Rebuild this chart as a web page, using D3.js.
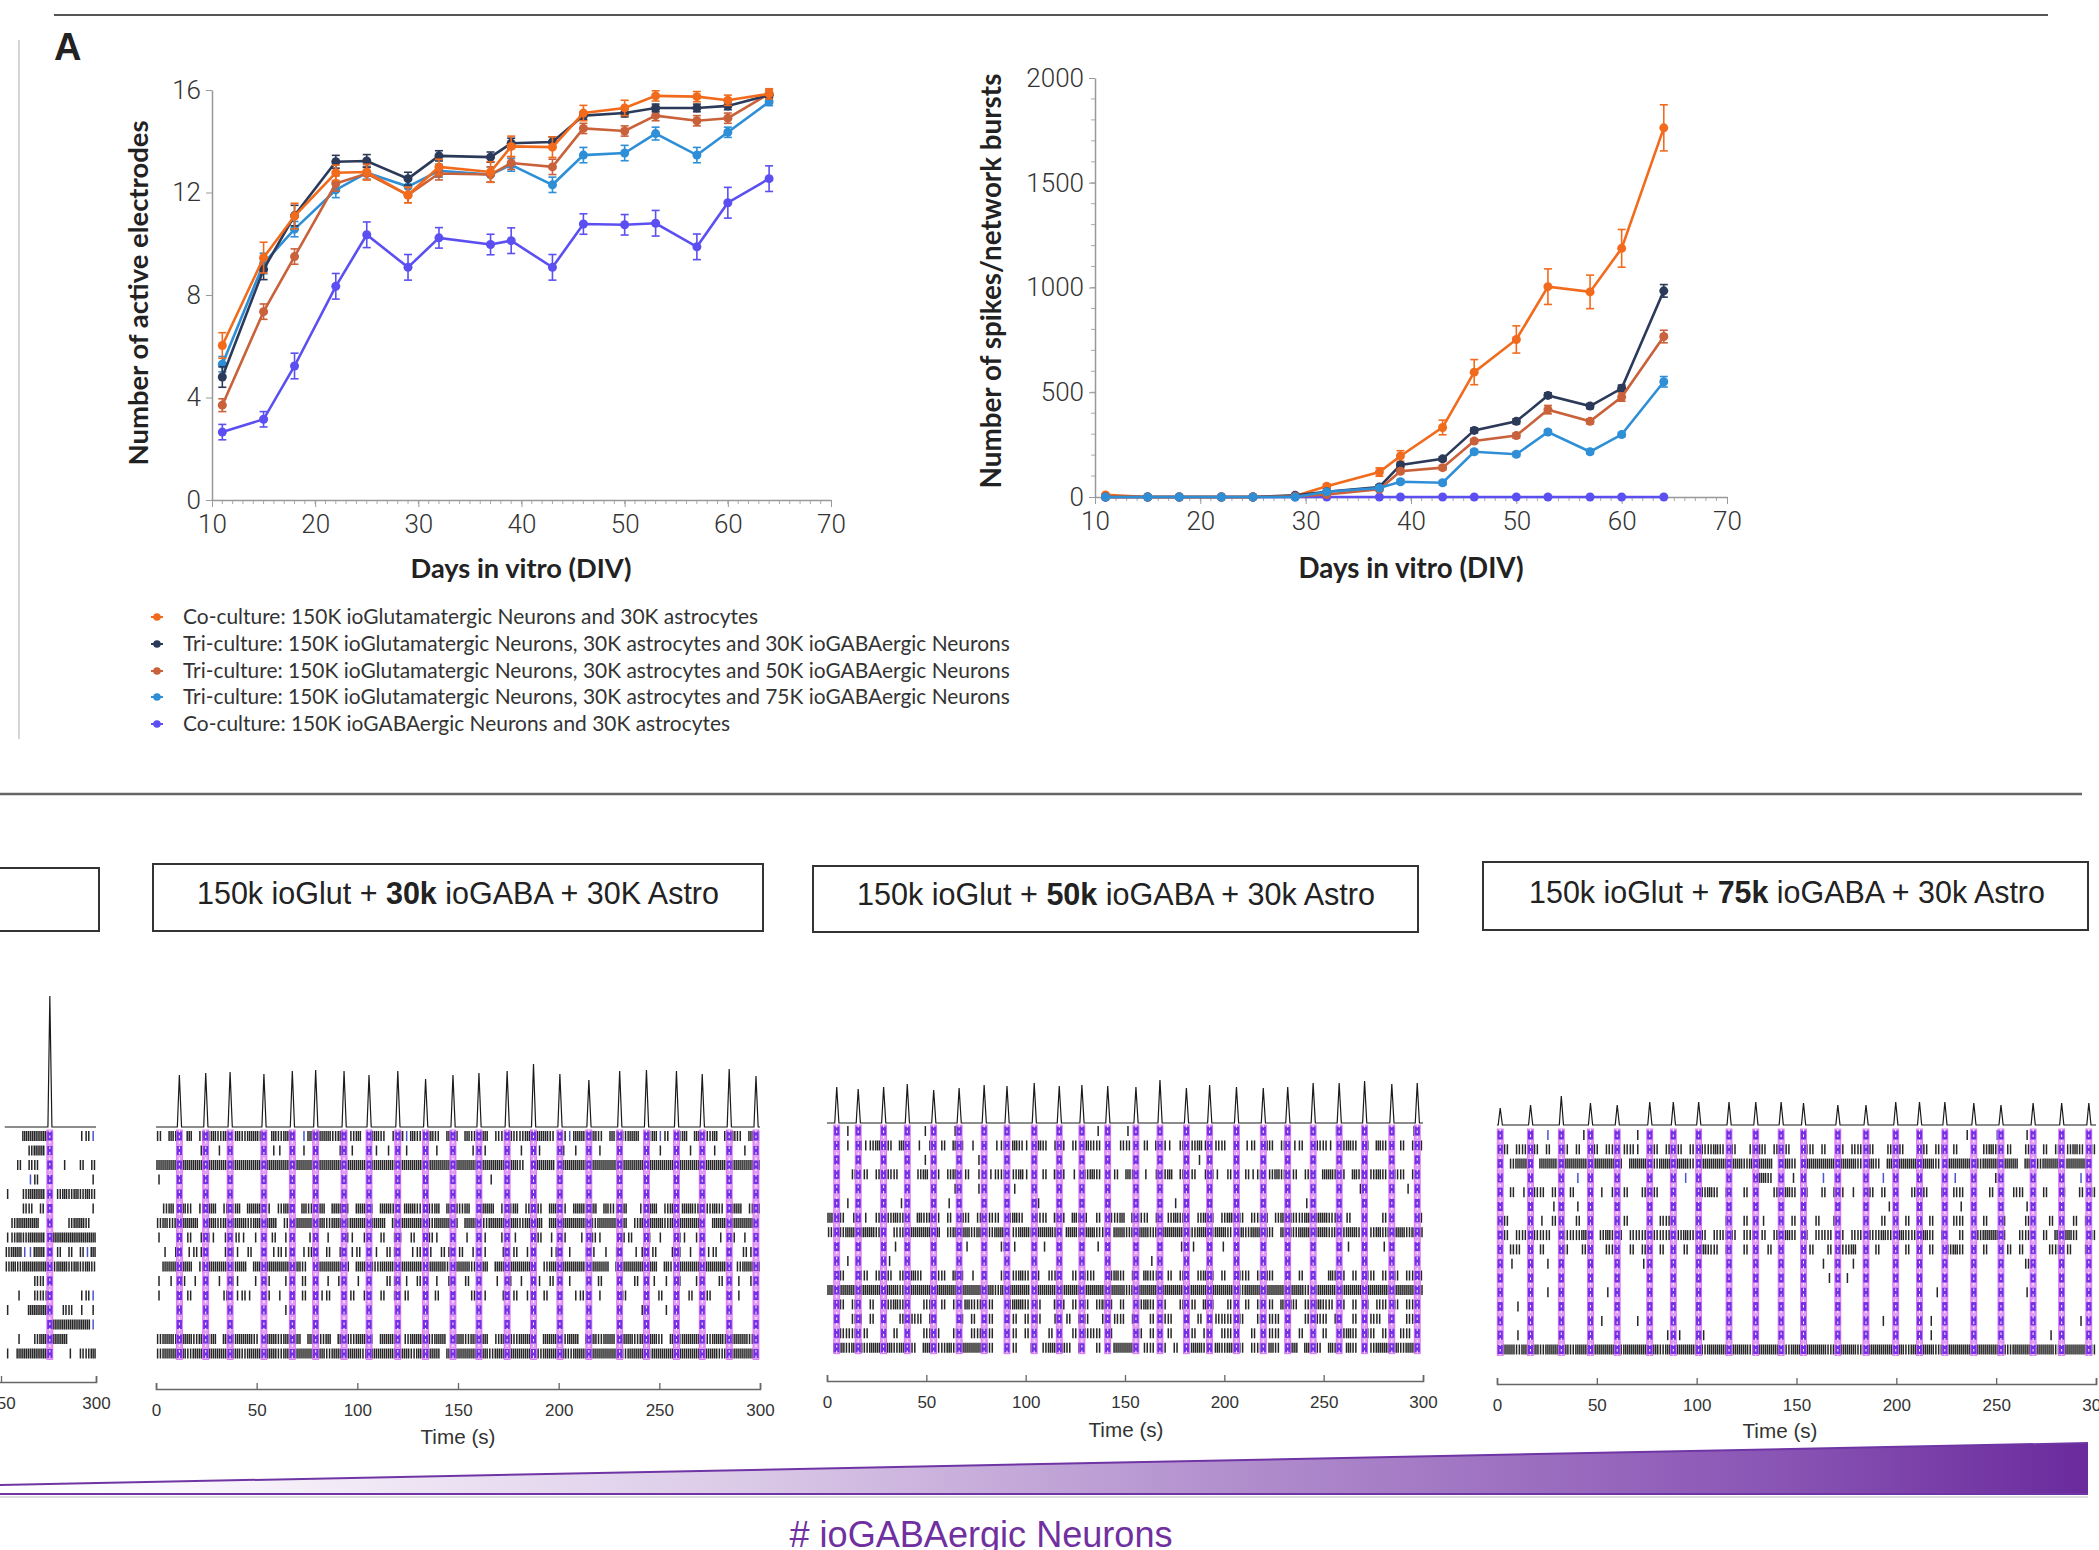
<!DOCTYPE html>
<html><head><meta charset="utf-8">
<script src="https://cdn.jsdelivr.net/npm/d3@7"></script>
<style>body{margin:0;background:#fff;} svg{display:block;}</style>
</head><body>
<svg id="c" width="2099" height="1550"></svg>
<script>
// ---------------- DATA ----------------
const days = [11,15,18,22,25,29,32,37,39,43,46,50,53,57,60,64];
const seriesLabels = [
 "Co-culture: 150K ioGlutamatergic Neurons and 30K astrocytes",
 "Tri-culture: 150K ioGlutamatergic Neurons, 30K astrocytes and 30K ioGABAergic Neurons",
 "Tri-culture: 150K ioGlutamatergic Neurons, 30K astrocytes and 50K ioGABAergic Neurons",
 "Tri-culture: 150K ioGlutamatergic Neurons, 30K astrocytes and 75K ioGABAergic Neurons",
 "Co-culture: 150K ioGABAergic Neurons and 30K astrocytes"];
// active electrodes
const elecCoGlut  = [6.03,9.46,11.08,12.77,12.8,11.9,13.0,12.8,13.8,13.77,15.1,15.3,15.77,15.74,15.6,15.85];
const elecTri30   = [4.8,9.0,11.1,13.2,13.23,12.54,13.43,13.38,13.92,13.97,15.0,15.1,15.3,15.3,15.38,15.8];
const elecTri50   = [3.7,7.35,9.5,12.35,12.74,11.9,12.74,12.7,13.15,13.0,14.5,14.4,15.0,14.8,14.9,15.85];
const elecTri75   = [5.3,9.23,10.57,12.1,12.77,12.23,12.85,12.7,13.08,12.3,13.46,13.54,14.3,13.46,14.35,15.54];
const elecCoGABA  = [2.65,3.15,5.23,8.34,10.35,9.08,10.23,9.97,10.12,9.08,10.77,10.74,10.8,9.88,11.6,12.54];
const elecErrCoGlut = [0.5,0.6,0.5,0.3,0.3,0.3,0.3,0.4,0.4,0.4,0.3,0.3,0.2,0.2,0.2,0.2];
const elecErrTri30  = [0.4,0.4,0.4,0.25,0.25,0.25,0.2,0.2,0.2,0.2,0.15,0.15,0.15,0.15,0.15,0.1];
const elecErrTri50  = [0.25,0.3,0.3,0.3,0.25,0.3,0.25,0.3,0.25,0.3,0.2,0.2,0.2,0.2,0.2,0.15];
const elecErrTri75  = [0.3,0.4,0.3,0.3,0.25,0.25,0.25,0.3,0.25,0.3,0.3,0.3,0.25,0.3,0.2,0.15];
const elecErrCoGABA = [0.3,0.3,0.5,0.5,0.5,0.5,0.4,0.4,0.5,0.5,0.4,0.4,0.5,0.5,0.6,0.5];
// spikes / network bursts
const nbCoGlut  = [10,0,0,0,0,5,51,119,196,332,596,752,1004,979,1187,1762];
const nbTri30   = [0,0,0,0,0,8,25,48,153,182,318,361,485,434,519,984];
const nbTri50   = [0,0,0,0,0,3,12,37,123,140,267,293,417,361,477,766];
const nbTri75   = [0,0,0,0,0,0,25,43,73,68,216,204,310,216,298,550];
const nbCoGABA  = [0,0,0,0,0,0,0,0,0,0,0,0,0,0,0,0];
const nbErrCoGlut = [5,0,0,0,0,3,10,20,25,35,60,65,85,80,90,110];
const nbErrTri30  = [0,0,0,0,0,2,5,10,10,10,12,12,12,12,15,30];
const nbErrTri50  = [0,0,0,0,0,2,5,8,10,10,10,12,20,12,20,30];
const nbErrTri75  = [0,0,0,0,0,2,5,8,10,10,10,10,10,10,10,25];
const nbErrCoGABA = [0,0,0,0,0,0,0,0,0,0,0,0,0,0,0,0];
// tick labels
const dayTicks = [10,20,30,40,50,60,70];
const elecTicks = [0,4,8,12,16];
const nbTicks = [0,500,1000,1500,2000];
const timeTicks = [0,50,100,150,200,250,300];
// raster panels: network burst times (s), population peak heights, spike rows (3 s bins: . none, i one, I two, H many, b blue)
const boxTitles = [["150k ioGlut + ","30k"," ioGABA + 30K Astro"],["150k ioGlut + ","50k"," ioGABA + 30k Astro"],["150k ioGlut + ","75k"," ioGABA + 30k Astro"]];
const rasterStart = [252,0,0,0];
const bursts0 = [275.7];
const peaks0 = [131];
const rows0 = [
"...HHHHH.....iIb","....IHH.........","..I.II....i..I.I","....bI.........i","i..IHHH..IHIHIHI","...II.I........i",
".IHHHH.....IHHI.","iIHIHHH.HHHHHHHH","IHHbbHH..I.I.IbH","IHIHHHHHIHHIHIHI",".....II.........","..i..III.....iIb",
"i...HHHH..II.i.i","........HHHHHHHb","..i..IHHHHH.....","i.HHHHHH...i.IIH"];
const bursts1 = [11.6,24.7,36.8,53.6,67.7,79.3,93.4,105.8,120.1,133.9,147.5,160.4,174.4,187.5,200.6,215.0,230.3,243.6,258.5,271.3,284.7,298.0];
const peaks1 = [52,54,55,53,56,57,56,52,56,48,52,54,56,63,53,47,56,57,56,53,58,51];
const rows1 = [
"I.HI.H.IIH IH.HIHHI.H IHH.bH.HHI H.IH.HHI.I HbHI.HI.HH .HIHH.IIHI IH.HHI.IbH HIHI.HIIHH .IHbI.IH.H IIH.HHI.HI",
".......i.. i.i....i.i i.i.i.i... i.i...i.i. .i..i.i..i ..i.i...i. i..i...i.i .i.i..i... .i.i..i.i. ..i.i..i.i",
"HHHHHHHHHH HHHHHHHHHH HHHHHHHHHH HHHHHHHHHH HHHHHHHHHH HHHHHHHHHH I.HHHH.HHH HHHHHHHHHH HHHHHHHHHH HHHHHHHHHH",
"i......... .......... .......... .......... .......... .....i.... .......... .......... .......... ..........",
"",
".IH.HI.IHH .IIH.HHHI. IHH.HIIH.H HI.HHI.HHI .HHI.IH.HH IH.IHH.IIH .IHI.HHI.H HIH.HIIH.. IHH.IH.HHI .IHI.HH.IH",
"IHIHHHH.HH IHHHHIHHHH .IHHHHHHIH HIHHHHHH.H HHHHHIHHHH .HHHIHHHHH IHHH.HHHHH HHIHHHHH.I HHHHIHHHHH I.HHHHHHH.",
"i..i.I.iIi .i.Ii.i..I .iI..iI.i. .Ii.i..I.i i.I.iIi..i .i.Ii..I.i ..iI.i.I.. i.Ii...iI. .I.i..Ii.i I..i.I.i..",
".i.I.iIi.. .iIi.I.i.i Ii..iI..I. i.iI..i.Ii ..iI.i.Ii. I.iIi..i.I .iI..iI.i. .Ii.i.I..i i.I..iI.i. .iI.i..Ii.",
".HHHHH.IHH HHIHH.HHHH HHHHI.HHHH HH.HHHIHHH HHHH.HHHIH HHIHH.HHHH HHH.IHHHHH HIHHH.HHHH HHH.HIHHHH HHHHH.IHHH",
"i.i.I.i... i.Ii..i.I. .i..I.i.i. I..i.i..Ii .i.I..i.i. .I.i..i.I. i..i.I..i. .i.I..i..I ..i.i.I..i i..I..i.i.",
"i..i.I..i. .I.iIi..I. i.I.I..iI. .iI.i..I.i .I..i.I..i ..I.i..i.I .i..I.i..i I..i..iI.. .i.I..i.I. .I..i.i...",
".......... .......... .i........ .......... .......... .......... .......... .......... i...i..... ..........",
"",
"IHHIHHIHIH .HIHHHI.HH IHHH.HHIH. HHIHHI.HHH .IHHHIHH.H HIHHH.IHHI HHI.HHHIHH .HHIHH.HHI HHHI.HIHHH .IHHIHHHI.",
"IHHHHIHHHH HHHHIHHHHH IHHHHHHHIH HHHHIHHHHH HHIHHHH.HH HHHHHIHHHH HHHIHHHHIH HHHHHHHIHH HIHHHHHHHH HHHIHHHHH."];
const bursts2 = [4.9,15.7,28.5,40.4,53.7,66.5,79.1,90.6,104.3,116.9,128.3,141.3,155.5,167.6,180.9,192.6,206.1,219.6,231.9,244.7,257.8,270.6,284.3,297.1];
const peaks2 = [36,34,36,39,33,35,38,37,40,37,38,37,36,43,35,38,36,35,36,40,40,42,39,40];
const rows2 = [
"...i...... ......i... .i....i... i......... .....i.... i......... ........i. .......... .....i.... ........i.",
".I.i.IiIHi I.HI.i.I.I .HI.i.I.iI .HIi.HI.II .I.HII.i.I I..I.HIi.I .IHi.II.I. iI.HI.I.iI ..IIi.IHI. I.HIi.I.II",
".......... ......i... .....i.... .......... .......... .......... i.i....... .......... .......... ..........",
".I..IiI.Ii II.I.IHiI. IH.I.i.iII .IHi..I.HI .i.IHI.iI. HI.i.IIH.I .I.iIi.I.. IiI.IHI.I. IH.HHII.HI .IHI.II.I.",
".......... ...i...... .i...i.... .i........ .......... .......... i......... .......... .........i .......i..",
"...i...... ..i....... i......... .....i.... .......i.. ........i. ....i..... .......... i......... ..........",
"HII.i.i.I. IHII.HIHI. I.HI.I.II. IHI.iII.HI .HIi.I.IIH .HII.I.IHI I.IHI.IHHI .IIH.IHHII HIHHII.I.. ...I.....I",
"IHIHHHHHII .IIHHHHHH. IHHHIHHIHH .IHHIHHHI. HHIHHII.HH IHHHIHHHHH HIHHIHHI.H IHHHI.HHIH HHHHIHIHHI .IHIHHHIHH",
".i........ .i.....i.. ...i.....I .i....i... .....i.... .i...i...i .i....i... ...i...... .i.....i.. i..i......",
"...i...... i......... .......... ....i..... .......... ....i..... .......... .......... .......... ..........",
".II..II.I. I.I.HI.iII .HI.i.I..I .IHI.i.II. .I.II..IHI .I.HII.I.I ..IHI.I..I I.IHI..I.I .I..HII.I. II.I.I.III",
"HHHHHHHHHH HHIHHHHHHH HHHHHHHHIH HHHH.HHHHH HHHHHHHHHH IHHHHHHHHH HHHHHHHHHI HHHHHHHHHH IHHHHHHHHH HHHHHHHHHH",
".HI.I..I.I IHII..II.I .I.HII.I.. IHHI.I..HI .I.I.IHI.I ..IHI.I..I .I.HI..II. I.I.I.HHI. IHHII.I.I. I.II.I.II.",
".I..II.I.I ..I.II.I.. ..I.I.II.. .I.I.I..I. I.II..I.II .I..I.II.. I.I..III.I ..I.II.I.. I.II.I..I. .II.I..II.",
"..III.I... .I.I..III. .I..IIII.. .I.I...I.. .I.III.I.. ..I.I..I.. .I.I..II.. .I..II...I .I.I..IHI. II.I..II..",
".HHIHHIHHI HIHHI.HHII HIHHHHHI.. .I..I.IHHH I.I..I..HH HH.II.I.I. .HHI.HIHHI .II.HI.HH. HII.HI.HI. .IHHHHIHH."];
const bursts3 = [1.6,16.8,32.2,46.8,60.2,76.5,88.3,101.0,116.2,129.6,142.3,153.5,170.7,184.8,199.7,211.6,224.3,238.8,252.4,268.5,282.8,296.4];
const peaks3 = [17,20,29,22,20,23,23,23,23,23,23,22,20,20,23,23,23,22,20,22,22,22];
const rows3 = [
"........b. ....i..... ...i...... .......... .......... .......... .......... ........i. ...b....i. ..........",
".I.IIHI.I. .I.I..I.II .IIi..I.I. I.I.IIHI.I ..IHI.I.I. .II.I..I.I I.I..IHI.. .I.II.I..I .IHI.I..II .I.I.IHI.I",
"I.IHHI.HHH IHHHHIHHHH I.HHHHIHHH HHI.HHHHHH HIHHHH.HHI .HHHHHHHHH I.HI.HHHHH HHHI.HHHH. IHHHHHH.HH IHHHIHHHH.",
"i......... ...b...... .......... .b........ ...HHI...i ....b.b... ....b..... ......b... ...I...... .......b..",
"..I.i.II.I ..I..I.i.I .I..I.I..I ...IIHI.I. .I.i..IIHI .I..I.II.i ..I.I.i..I .I..I.II.I ..I.i.II.I .I..I..I.I",
".........i ...i...... .......... .......... .......... .......... .....i.... .......i.. ........i. ..........",
".I.....i.I ...I.I.... .I...I.IIi ...I....I. .I..i....I ...I..I... .I..I...I. ..I...II.. .I..I...I. ..I...I.I.",
".I.II.III. .IIIHI.IHI I.III.III. IHIHI.IIII .II.I.IIHI .I.III.I.I I.IIHIIHII IHI.I..I.I IHHHI..III .I.HHHI..I",
"..II...I.. .I..II..II ..I.I..I.. .I.IHII.I. .I...I.I.. ..I..I.IIH ...I..I.I. I.I..IHI.. .I...I.I.. ..II.I..I.",
"..i.....i. .......... ....i..... .......... .......... ....i.i..i .......... .......... ........Ii ..........",
".......... .......... .......... .......... .......... .....i..i. .......... .......... .........i ..........",
"........i. ........i. .......... .......... .......... .......... .......... ...i...... ........i. ..........",
"...i......",
".......... .....i.i.. ...i...... .......... .......... .......... ....i..... ..i....... .......... .......i..",
"...i...... .......... ........i. i...i..... .......... .......... .......... ..i....... .......... ..i.......",
"HHHIHHHIHH HHIHHHHHHH IHHHHHHIHH HHHHIHHHHH HHIHHHHHIH HHHHHIHHHH IHHHHHHHIH HHHIHHHHHH HHHHHIHHHH HHHIHHHHHI"];

// ---------------- STYLE ----------------
const seriesColors = ['#f26b1d','#2c3a5a','#c9613a','#2f8fd6','#5b4ff2'];
const tickFont = 'Roboto, "Open Sans", sans-serif';
const titleFont = 'Lato, "Open Sans", sans-serif';
const armFont = '"Liberation Sans", Arial, sans-serif';

const svg = d3.select('#c');
function fit(sel, w){ const l = sel.node().getComputedTextLength(); const fs = parseFloat(sel.attr('font-size')); sel.attr('font-size', (fs*w/l).toFixed(2)); return sel; }

// frame lines
svg.append('line').attr('x1',54).attr('x2',2048).attr('y1',15).attr('y2',15).attr('stroke','#555').attr('stroke-width',2);
svg.append('line').attr('x1',19).attr('x2',19).attr('y1',40).attr('y2',739).attr('stroke','#c8c8c8').attr('stroke-width',1.5);
svg.append('line').attr('x1',0).attr('x2',2082).attr('y1',794).attr('y2',794).attr('stroke','#666').attr('stroke-width',2.5);
svg.append('text').attr('x',54).attr('y',60).attr('font-family',armFont).attr('font-weight',700).attr('font-size',38).attr('fill','#222').text('A');

// ---------------- LINE CHARTS ----------------
function lineChart(o){
  const x = d3.scaleLinear().domain([10,70]).range(o.xr);
  const y = d3.scaleLinear().domain([0,o.ymax]).range(o.yr);
  const g = svg.append('g');
  g.append('g').selectAll('line').data(d3.range(11,70)).join('line')
    .attr('x1',d=>x(d)).attr('x2',d=>x(d)).attr('y1',o.yr[0]).attr('y2',o.yr[0]+4).attr('stroke','#aaa').attr('stroke-width',1);
  if(o.minorY){ g.append('g').selectAll('line').data(d3.range(100,2000,100)).join('line')
    .attr('x1',o.xr[0]-4).attr('x2',o.xr[0]).attr('y1',d=>y(d)).attr('y2',d=>y(d)).attr('stroke','#aaa').attr('stroke-width',1); }
  const xa = g.append('g').attr('transform',`translate(0,${o.yr[0]})`)
    .call(d3.axisBottom(x).tickValues(dayTicks).tickFormat(d3.format('d')).tickSize(7).tickSizeOuter(0).tickPadding(8));
  const ya = g.append('g').attr('transform',`translate(${o.xr[0]},0)`)
    .call(d3.axisLeft(y).tickValues(o.yticks).tickFormat(d3.format('d')).tickSize(6).tickSizeOuter(0).tickPadding(5));
  [xa,ya].forEach(a=>{ a.select('.domain').attr('stroke','#999').attr('stroke-width',1.5);
    a.selectAll('.tick line').attr('stroke','#999');
    a.selectAll('text').attr('font-family',tickFont).attr('font-weight',300).attr('font-size',o.tickFs).attr('fill','#333'); });
  o.order.forEach(si=>{
    const vals = o.values[si], errs = o.errs[si], col = seriesColors[si];
    const sg = g.append('g');
    sg.append('path').attr('d', d3.line().x((d,i)=>x(days[i])).y(d=>y(d))(vals))
      .attr('fill','none').attr('stroke',col).attr('stroke-width',2.6);
    vals.forEach((v,i)=>{
      const e = errs[i], cx = x(days[i]);
      if(e>0){
        sg.append('line').attr('x1',cx).attr('x2',cx).attr('y1',y(v-e)).attr('y2',y(v+e)).attr('stroke',col).attr('stroke-width',1.6);
        [v-e,v+e].forEach(w=>sg.append('line').attr('x1',cx-4).attr('x2',cx+4).attr('y1',y(w)).attr('y2',y(w)).attr('stroke',col).attr('stroke-width',1.6));
      }
      sg.append('circle').attr('cx',cx).attr('cy',y(v)).attr('r',4.5).attr('fill',col);
    });
  });
  const xt = g.append('text').attr('x',o.xTitle[0]).attr('y',o.xTitle[1]).attr('text-anchor','middle')
    .attr('font-family',titleFont).attr('font-weight',700).attr('font-size',23).attr('fill','#222').text('Days in vitro (DIV)');
  fit(xt,o.xTitleW);
  const yt = g.append('text').attr('transform',`translate(${o.yTitle[0]},${o.yTitle[1]}) rotate(-90)`).attr('text-anchor','middle')
    .attr('font-family',titleFont).attr('font-weight',700).attr('font-size',25).attr('fill','#222').text(o.yLabel);
  fit(yt,o.yTitleW);
}
lineChart({xr:[212,831], yr:[500,90], ymax:16, yticks:elecTicks, tickFs:26,
  values:[elecCoGlut,elecTri30,elecTri50,elecTri75,elecCoGABA], errs:[elecErrCoGlut,elecErrTri30,elecErrTri50,elecErrTri75,elecErrCoGABA],
  order:[4,3,2,1,0], xTitle:[521,578], xTitleW:221, yTitle:[148,293], yTitleW:345, yLabel:'Number of active electrodes'});
lineChart({xr:[1095,1727], yr:[497,78], ymax:2000, yticks:nbTicks, tickFs:26, minorY:true,
  values:[nbCoGlut,nbTri30,nbTri50,nbTri75,nbCoGABA], errs:[nbErrCoGlut,nbErrTri30,nbErrTri50,nbErrTri75,nbErrCoGABA],
  order:[4,0,1,2,3], xTitle:[1411,578], xTitleW:225, yTitle:[1001,281], yTitleW:415, yLabel:'Number of spikes/network bursts'});

// legend
const lg = svg.append('g');
const legY = [617,644,671,697,724];
let legTexts = [];
seriesLabels.forEach((lab,i)=>{
  lg.append('line').attr('x1',151).attr('x2',163).attr('y1',legY[i]).attr('y2',legY[i]).attr('stroke',seriesColors[i]).attr('stroke-width',2);
  lg.append('circle').attr('cx',157).attr('cy',legY[i]).attr('r',3.8).attr('fill',seriesColors[i]);
  legTexts.push(lg.append('text').attr('x',183).attr('y',legY[i]+7).attr('font-family',titleFont).attr('font-size',20).attr('fill','#333').text(lab));
});
{ const l = legTexts[1].node().getComputedTextLength(); const fs = 20*827/l; legTexts.forEach(t=>t.attr('font-size',fs.toFixed(2))); }

// ---------------- BOXES ----------------
svg.append('rect').attr('x',-10).attr('y',868).attr('width',109).attr('height',63).attr('fill','none').attr('stroke','#333').attr('stroke-width',2);
const boxes = [{x:153,y:864,w:610,h:67,cx:458,cy:893,tw:522},{x:813,y:866,w:605,h:66,cx:1116,cy:894,tw:518},{x:1483,y:862,w:605,h:68,cx:1787,cy:892,tw:516}];
boxes.forEach((b,i)=>{
  svg.append('rect').attr('x',b.x).attr('y',b.y).attr('width',b.w).attr('height',b.h).attr('fill','none').attr('stroke','#333').attr('stroke-width',2);
  const t = svg.append('text').attr('x',b.cx).attr('y',b.cy+11).attr('text-anchor','middle').attr('font-family',armFont).attr('font-size',30).attr('fill','#222');
  t.append('tspan').text(boxTitles[i][0]);
  t.append('tspan').attr('font-weight',700).text(boxTitles[i][1]);
  t.append('tspan').text(boxTitles[i][2]);
  fit(t,b.tw);
});

// ---------------- RASTERS ----------------
function raster(spec, start, bursts, peaks, rows){
  const x = d3.scaleLinear().domain([0,300]).range([spec.x0, spec.x1]);
  const h = d3.scaleLinear().domain([0,100]).range([0,100]);
  const g = svg.append('g');
  const pts = [[start,0]];
  bursts.forEach((b,i)=>{ pts.push([b-1.0,0],[b,peaks[i]],[b+1.1,0]); });
  pts.push([300,0]);
  g.append('path').attr('d', d3.line().x(d=>x(d[0])).y(d=>spec.base-h(d[1]))(pts))
    .attr('fill','none').attr('stroke','#1a1a1a').attr('stroke-width',1.2);
  const spikes = [];
  rows.forEach((s,ri)=>{
    const str = s.replace(/ /g,'');
    [...str].forEach((c,bi)=>{
      const t0 = start + bi*3;
      const offs = (c==='i'||c==='b') ? [1.5] : c==='I' ? [0.8,2.2] : c==='H' ? [0.5,1.5,2.5] : [];
      offs.forEach(o=>spikes.push({t:t0+o, r:ri, blue:c==='b'}));
    });
  });
  g.append('g').selectAll('line').data(spikes).join('line')
    .attr('x1',d=>x(d.t)).attr('x2',d=>x(d.t))
    .attr('y1',d=>spec.row0+d.r*spec.step-5).attr('y2',d=>spec.row0+d.r*spec.step+5)
    .attr('stroke',d=>d.blue?'#4a55d0':'#262626').attr('stroke-width',1.5);
  const bg = g.append('g');
  const top = spec.row0-6, bot = spec.row0+15*spec.step+6;
  bursts.forEach(b=>{
    bg.append('rect').attr('x',x(b)-3).attr('y',top).attr('width',6).attr('height',bot-top).attr('fill','#e29cf6').attr('stroke','#d86cf0').attr('stroke-width',0.8);
    d3.range(16).forEach(r=>bg.append('rect').attr('x',x(b)-2.6).attr('y',spec.row0+r*spec.step-4.5).attr('width',5.2).attr('height',9).attr('fill','#7430e6'));
    bg.append('line').attr('x1',x(b)).attr('x2',x(b)).attr('y1',top).attr('y2',bot).attr('stroke','#fff').attr('stroke-width',1).attr('stroke-dasharray','2.5,3');
  });
  const ax = g.append('g').attr('transform',`translate(0,${spec.axisY})`)
    .call(d3.axisBottom(x).tickValues(timeTicks).tickSize(-6).tickSizeOuter(-6).tickPadding(15));
  ax.select('.domain').attr('stroke','#666').attr('stroke-width',1.6);
  ax.selectAll('.tick line').attr('stroke','#666').attr('stroke-width',1.3);
  ax.selectAll('text').attr('font-family',armFont).attr('font-size',17).attr('fill','#333');
  if(spec.title){
    const tt = g.append('text').attr('x',spec.title[0]).attr('y',spec.title[1]).attr('text-anchor','middle')
      .attr('font-family',armFont).attr('font-size',19).attr('fill','#333').text('Time (s)');
    fit(tt,75);
  }
}
raster({x0:-474,x1:96,base:1127,row0:1136,step:14.5,axisY:1382}, rasterStart[0], bursts0, peaks0, rows0);
raster({x0:156,x1:760,base:1127,row0:1136,step:14.5,axisY:1389,title:[458,1444]}, rasterStart[1], bursts1, peaks1, rows1);
raster({x0:827,x1:1423,base:1123,row0:1131,step:14.45,axisY:1381,title:[1126,1437]}, rasterStart[2], bursts2, peaks2, rows2);
raster({x0:1497,x1:2096,base:1125,row0:1135,step:14.3,axisY:1384,title:[1780,1438]}, rasterStart[3], bursts3, peaks3, rows3);

// ---------------- GRADIENT WEDGE ----------------
const defs = svg.append('defs');
const grad = defs.append('linearGradient').attr('id','wedge').attr('x1',0).attr('x2',1).attr('y1',0).attr('y2',0);
[[0,'#ffffff'],[0.08,'#fbf8fd'],[0.35,'#dccbe8'],[0.6,'#b08ccc'],[0.85,'#8a55b5'],[1,'#6a2a9c']].forEach(s=>grad.append('stop').attr('offset',s[0]).attr('stop-color',s[1]));
svg.append('polygon').attr('points','0,1485 2088,1443 2088,1494 0,1494').attr('fill','url(#wedge)');
svg.append('line').attr('x1',0).attr('y1',1485).attr('x2',2088).attr('y2',1443).attr('stroke','#6f35a5').attr('stroke-width',2);
svg.append('line').attr('x1',0).attr('y1',1494).attr('x2',2088).attr('y2',1494).attr('stroke','#6f35a5').attr('stroke-width',2);
svg.append('line').attr('x1',0).attr('y1',1497).attr('x2',2088).attr('y2',1497).attr('stroke','#ddd').attr('stroke-width',2);
const gl = svg.append('text').attr('x',981).attr('y',1547).attr('text-anchor','middle').attr('font-family',armFont).attr('font-size',33).attr('fill','#7030a0').text('# ioGABAergic Neurons');
fit(gl,383);
</script></body></html>
